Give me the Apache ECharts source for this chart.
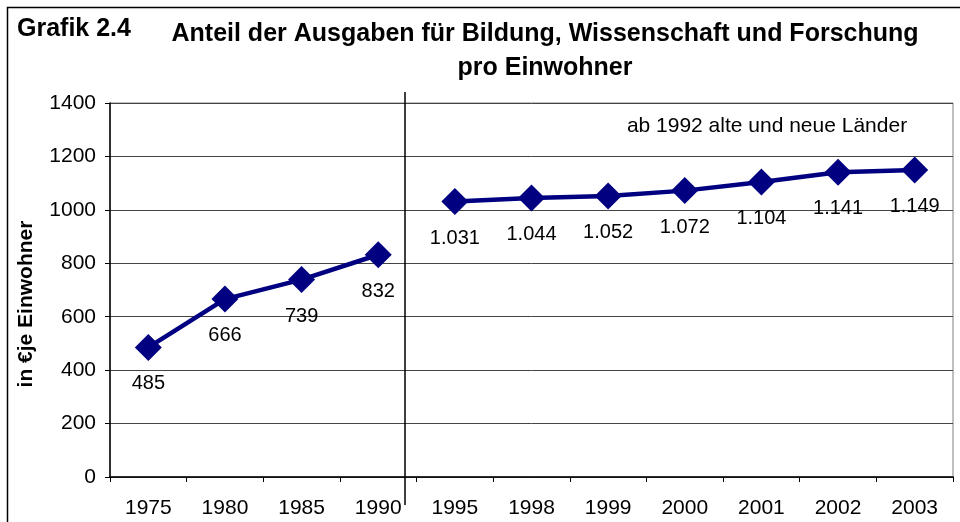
<!DOCTYPE html>
<html>
<head>
<meta charset="utf-8">
<script src="https://cdn.jsdelivr.net/npm/echarts@6/dist/echarts.min.js"></script>
<style>
  html, body { margin: 0; padding: 0; background: #fff; }
  #chart { width: 960px; height: 522px; }
</style>
</head>
<body>
<div id="chart"></div>
<script>
var years = ['1975', '1980', '1985', '1990', '1995', '1998', '1999', '2000', '2001', '2002', '2003'];
// vor 1992 nur alte Länder
var westValues = [485, 666, 739, 832, null, null, null, null, null, null, null];
// ab 1992 alte und neue Länder
var allValues = [null, null, null, null, 1031, 1044, 1052, 1072, 1104, 1141, 1149];
var yTicks = [0, 200, 400, 600, 800, 1000, 1200, 1400];

var font = '"Liberation Sans", Arial, sans-serif';
var navy = '#000080';

function fmt(v) {
  // deutsches Tausendertrennzeichen
  return String(v).replace(/\B(?=(\d{3})+(?!\d))/g, '.');
}

function lineSeries(name, data) {
  return {
    name: name,
    type: 'line',
    data: data,
    symbol: 'diamond',
    symbolSize: [27, 27],
    lineStyle: { color: navy, width: 4.5 },
    itemStyle: { color: navy },
    label: {
      show: true,
      position: 'bottom',
      distance: 13,
      color: '#000',
      fontFamily: font,
      fontSize: 20,
      formatter: function (p) { return fmt(p.value); }
    },
    z: 3,
    animation: false
  };
}

var myChart = echarts.init(document.getElementById('chart'));
var option = {
  backgroundColor: '#fff',
  textStyle: { fontFamily: font },
  grid: {
    left: 110, right: 7, top: 103, bottom: 45,
    show: true, borderColor: '#808080', borderWidth: 1
  },
  xAxis: {
    type: 'category',
    data: years,
    boundaryGap: true,
    axisLine: { lineStyle: { color: '#000', width: 1.5 } },
    axisTick: { show: true, length: 5, lineStyle: { color: '#000' } },
    axisLabel: { color: '#000', fontSize: 21, fontFamily: font, margin: 21 },
    splitLine: { show: false }
  },
  yAxis: {
    type: 'value',
    min: yTicks[0],
    max: yTicks[yTicks.length - 1],
    interval: 200,
    axisLine: { show: true, lineStyle: { color: '#000', width: 1.5 } },
    axisTick: { show: true, length: 5, lineStyle: { color: '#000' } },
    axisLabel: { color: '#000', fontSize: 21, fontFamily: font, margin: 14,
      formatter: function (v) { return String(v); } },
    splitLine: { show: true, lineStyle: { color: '#444', width: 1 } }
  },
  series: [
    lineSeries('alte Länder', westValues),
    lineSeries('alte und neue Länder', allValues)
  ],
  graphic: [
    { type: 'rect', shape: { x: 7.5, y: 7.5, width: 970, height: 530 },
      style: { fill: 'none', stroke: '#000', lineWidth: 1.5 }, z: 0 },
    { type: 'text', x: 17, y: 17,
      style: { text: 'Grafik 2.4', font: 'bold 25px ' + font, fill: '#000' } },
    { type: 'text', x: 545, y: 17,
      style: { text: 'Anteil der Ausgaben für Bildung, Wissenschaft und Forschung\npro Einwohner',
        font: 'bold 25px ' + font, fill: '#000', align: 'center', lineHeight: 34 } },
    { type: 'text', x: 767, y: 126,
      style: { text: 'ab 1992 alte und neue Länder', font: '21px ' + font, fill: '#000',
        align: 'center', verticalAlign: 'middle' } },
    { type: 'text', x: 26, y: 304, rotation: Math.PI / 2,
      style: { text: 'in €je Einwohner', font: 'bold 21px ' + font, fill: '#000',
        align: 'center', verticalAlign: 'middle' } },
    { type: 'line', shape: { x1: 405, y1: 92, x2: 405, y2: 505 },
      style: { stroke: '#000', lineWidth: 1.5 }, z: 10 }
  ]
};
myChart.setOption(option);
</script>
</body>
</html>
